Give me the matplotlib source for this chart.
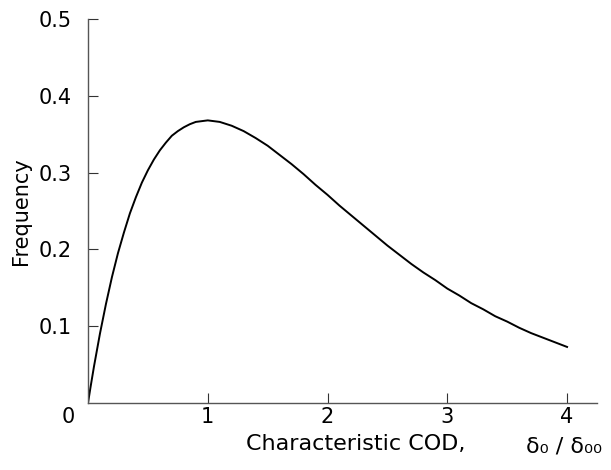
import matplotlib
matplotlib.use('Agg')
import matplotlib.pyplot as plt

# values
cod = [0, 0.02, 0.05, 0.1, 0.15, 0.2, 0.25, 0.3, 0.35, 0.4, 0.45, 0.5, 0.55,
       0.6, 0.65, 0.7, 0.75, 0.8, 0.85, 0.9, 0.95, 1.0, 1.05, 1.1, 1.2, 1.3,
       1.4, 1.5, 1.6, 1.7, 1.8, 1.9, 2.0, 2.1, 2.2, 2.3, 2.4, 2.5, 2.6, 2.7,
       2.8, 2.9, 3.0, 3.1, 3.2, 3.3, 3.4, 3.5, 3.6, 3.7, 3.8, 3.9, 4.0]
freq = [0, 0.0196, 0.0476, 0.0905, 0.129, 0.164, 0.195, 0.222, 0.247, 0.268,
        0.287, 0.303, 0.317, 0.329, 0.339, 0.348, 0.354, 0.359, 0.363, 0.366,
        0.367, 0.368, 0.367, 0.366, 0.361, 0.354, 0.345, 0.335, 0.323, 0.311,
        0.298, 0.284, 0.271, 0.257, 0.244, 0.231, 0.218, 0.205, 0.193, 0.181,
        0.170, 0.160, 0.149, 0.140, 0.130, 0.122, 0.113, 0.106, 0.098, 0.091,
        0.085, 0.079, 0.073]
xticks = [1, 2, 3, 4]
yticks = [0.1, 0.2, 0.3, 0.4, 0.5]

W, H = 611, 470
fig = plt.figure(figsize=(W / 100, H / 100), dpi=100)
ax = fig.add_axes([88 / W, 1 - 403 / H, (597 - 88) / W, (403 - 19) / H])

ax.plot(cod, freq, color='black', linewidth=1.4)

ax.set_xlim(0, 4.25)
ax.set_ylim(0, 0.5)
ax.spines['top'].set_visible(False)
ax.spines['right'].set_visible(False)
for s in ['left', 'bottom']:
    ax.spines[s].set_color('#555555')
    ax.spines[s].set_linewidth(1.0)

ax.set_xticks(xticks)
ax.set_xticklabels([str(t) for t in xticks])
ax.set_yticks(yticks)
ax.set_yticklabels(['%.1f' % t for t in yticks])
ax.tick_params(axis='x', direction='in', length=7, width=0.8, color='#333333',
               labelsize=15, pad=3)
ax.tick_params(axis='y', direction='in', length=7, width=0.8, color='#333333',
               labelsize=15, pad=12)

# corner zero
ax.annotate('0', xy=(0, 0), xytext=(-14, -3), textcoords='offset points',
            fontsize=15, ha='center', va='top', annotation_clip=False)

ax.set_ylabel('Frequency', fontsize=15, labelpad=5)
fig.text(356 / W, 1 - 444 / H, 'Characteristic COD,', fontsize=16,
         ha='center', va='center')
fig.text(564 / W, 1 - 446 / H, 'δ₀ / δ₀₀', fontsize=16,
         ha='center', va='center')

fig.savefig('out.png', dpi=100)
